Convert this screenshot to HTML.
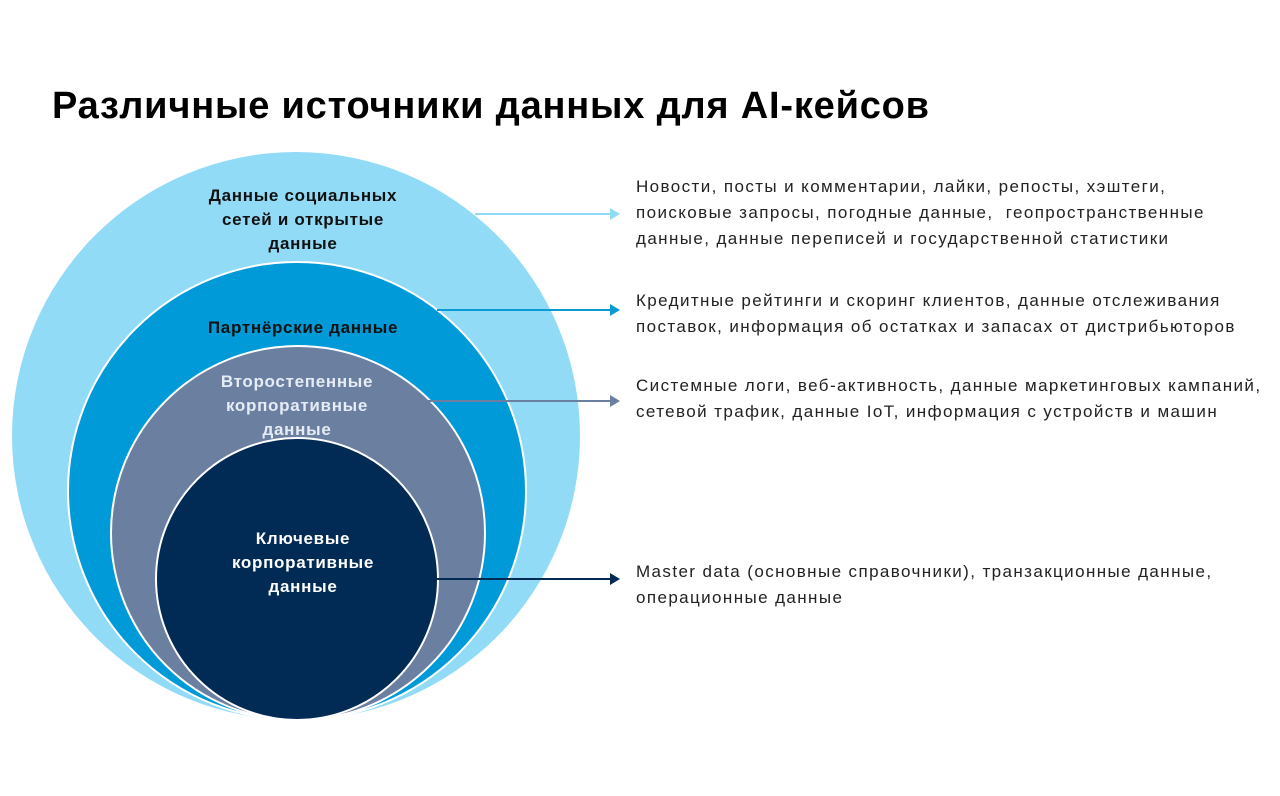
<!DOCTYPE html>
<html><head><meta charset="utf-8"><style>
body{margin:0;width:1280px;height:796px;background:#fff;overflow:hidden;position:relative;font-family:"Liberation Sans","DejaVu Sans",sans-serif}
.t{position:absolute;left:52px;top:85px;font-size:38px;font-weight:bold;color:#000;white-space:nowrap;letter-spacing:0.8px}
.r{position:absolute;left:636px;font-size:17px;line-height:26px;color:#222;white-space:nowrap;letter-spacing:1.4px}
</style></head><body>
<div class="t">Различные источники данных для AI-кейсов</div>
<svg width="1280" height="796" style="position:absolute;left:0;top:0">
<circle cx="296" cy="436" r="284" fill="#92dbf6"/>
<circle cx="297" cy="491" r="229" fill="#009ad8" stroke="#fff" stroke-width="2"/>
<circle cx="298" cy="533" r="187" fill="#6b7fa0" stroke="#fff" stroke-width="2"/>
<circle cx="297" cy="579" r="141" fill="#012a55" stroke="#fff" stroke-width="2"/>
<g font-family="Liberation Sans, sans-serif" font-weight="bold" font-size="17" letter-spacing="0.7" text-anchor="middle">
<text x="303" y="201" fill="#111">Данные социальных</text>
<text x="303" y="225" fill="#111">сетей и открытые</text>
<text x="303" y="249" fill="#111">данные</text>
<text x="303" y="333" fill="#111">Партнёрские данные</text>
<text x="297" y="387" fill="#e6ecf5">Второстепенные</text>
<text x="297" y="411" fill="#e6ecf5">корпоративные</text>
<text x="297" y="435" fill="#e6ecf5">данные</text>
<text x="303" y="544" fill="#fff">Ключевые</text>
<text x="303" y="568" fill="#fff">корпоративные</text>
<text x="303" y="592" fill="#fff">данные</text>
</g>
<g stroke-width="2">
<line x1="475" y1="214" x2="612" y2="214" stroke="#92dbf6"/>
<polygon points="610,208 620,214 610,220" fill="#92dbf6"/>
<line x1="437" y1="310" x2="612" y2="310" stroke="#0a9ad6"/>
<polygon points="610,304 620,310 610,316" fill="#0a9ad6"/>
<line x1="427" y1="401" x2="612" y2="401" stroke="#6b7fa0"/>
<polygon points="610,395 620,401 610,407" fill="#6b7fa0"/>
<line x1="436" y1="579" x2="612" y2="579" stroke="#012a55"/>
<polygon points="610,573 620,579 610,585" fill="#012a55"/>
</g>
</svg>
<div class="r" style="top:174px">Новости, посты и комментарии, лайки, репосты, хэштеги,<br>поисковые запросы, погодные данные,&nbsp; геопространственные<br>данные, данные переписей и государственной статистики</div>
<div class="r" style="top:288px">Кредитные рейтинги и скоринг клиентов, данные отслеживания<br>поставок, информация об остатках и запасах от дистрибьюторов</div>
<div class="r" style="top:373px">Системные логи, веб-активность, данные маркетинговых кампаний,<br>сетевой трафик, данные IoT, информация с устройств и машин</div>
<div class="r" style="top:559px">Master data (основные справочники), транзакционные данные,<br>операционные данные</div>
</body></html>
